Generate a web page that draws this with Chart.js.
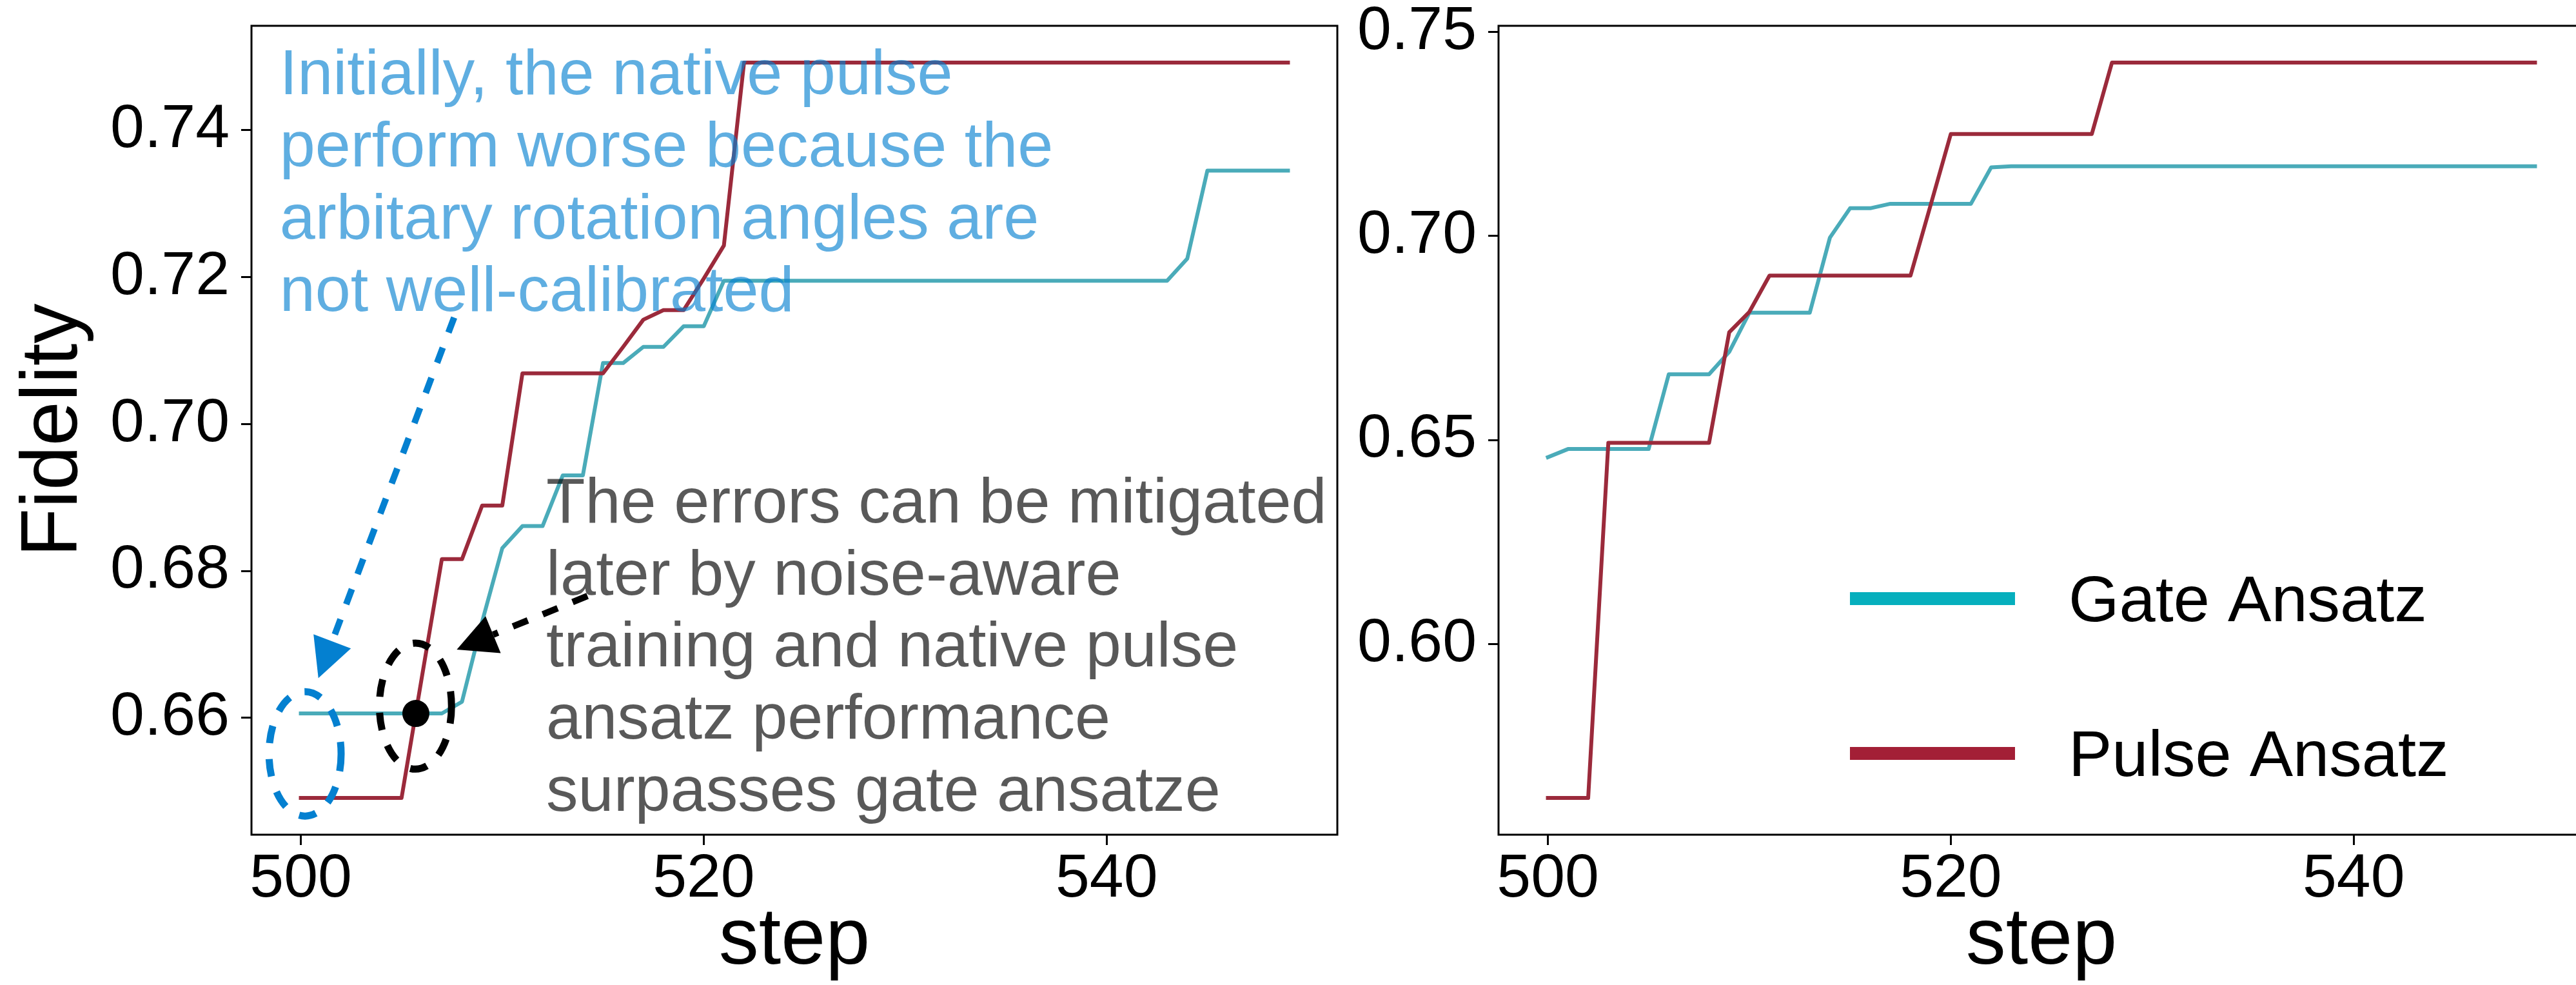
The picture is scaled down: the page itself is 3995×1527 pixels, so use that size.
<!DOCTYPE html>
<html lang="en">
<head>
<meta charset="UTF-8" />
<title>Fidelity per step</title>
<script src="https://cdn.jsdelivr.net/npm/chart.js"></script>
<style>
  html, body { margin: 0; padding: 0; background: #fff; overflow: hidden; }
  body { width: 3995px; height: 1527px; position: relative; }
  canvas { position: absolute; top: 0; }
  #leftChart { left: 0; }
  #rightChart { left: 1990px; }
</style>
</head>
<body>
<canvas id="leftChart" width="2110" height="1527"></canvas>
<canvas id="rightChart" width="2060" height="1527"></canvas>
<script>
  // training steps shared by both panels
  const steps = [
    500, 501, 502, 503, 504, 505, 506, 507, 508, 509,
    510, 511, 512, 513, 514, 515, 516, 517, 518, 519,
    520, 521, 522, 523, 524, 525, 526, 527, 528, 529,
    530, 531, 532, 533, 534, 535, 536, 537, 538, 539,
    540, 541, 542, 543, 544, 545, 546, 547, 548, 549
  ];

  // left panel
  const leftGate = [
    0.6606, 0.6606, 0.6606, 0.6606, 0.6606, 0.6606, 0.6606, 0.6606, 0.6622, 0.6731,
    0.6831, 0.6861, 0.6861, 0.6930, 0.6930, 0.7083, 0.7083, 0.7105, 0.7105, 0.7133,
    0.7133, 0.7195, 0.7195, 0.7195, 0.7195, 0.7195, 0.7195, 0.7195, 0.7195, 0.7195,
    0.7195, 0.7195, 0.7195, 0.7195, 0.7195, 0.7195, 0.7195, 0.7195, 0.7195, 0.7195,
    0.7195, 0.7195, 0.7195, 0.7195, 0.7225, 0.7345, 0.7345, 0.7345, 0.7345, 0.7345
  ];
  const leftPulse = [
    0.6491, 0.6491, 0.6491, 0.6491, 0.6491, 0.6491, 0.6654, 0.6816, 0.6816, 0.6889,
    0.6889, 0.7069, 0.7069, 0.7069, 0.7069, 0.7069, 0.7105, 0.7142, 0.7155, 0.7155,
    0.7198, 0.7243, 0.7492, 0.7492, 0.7492, 0.7492, 0.7492, 0.7492, 0.7492, 0.7492,
    0.7492, 0.7492, 0.7492, 0.7492, 0.7492, 0.7492, 0.7492, 0.7492, 0.7492, 0.7492,
    0.7492, 0.7492, 0.7492, 0.7492, 0.7492, 0.7492, 0.7492, 0.7492, 0.7492, 0.7492
  ];

  // right panel
  const rightGate = [
    0.6458, 0.6478, 0.6478, 0.6478, 0.6478, 0.6478, 0.6661, 0.6661, 0.6661, 0.6716,
    0.6812, 0.6812, 0.6812, 0.6812, 0.6996, 0.7068, 0.7068, 0.7079, 0.7079, 0.7079,
    0.7079, 0.7079, 0.7168, 0.7171, 0.7171, 0.7171, 0.7171, 0.7171, 0.7171, 0.7171,
    0.7171, 0.7171, 0.7171, 0.7171, 0.7171, 0.7171, 0.7171, 0.7171, 0.7171, 0.7171,
    0.7171, 0.7171, 0.7171, 0.7171, 0.7171, 0.7171, 0.7171, 0.7171, 0.7171, 0.7171
  ];
  const rightPulse = [
    0.5623, 0.5623, 0.5623, 0.6493, 0.6493, 0.6493, 0.6493, 0.6493, 0.6493, 0.6764,
    0.6814, 0.6903, 0.6903, 0.6903, 0.6903, 0.6903, 0.6903, 0.6903, 0.6903, 0.7076,
    0.7250, 0.7250, 0.7250, 0.7250, 0.7250, 0.7250, 0.7250, 0.7250, 0.7425, 0.7425,
    0.7425, 0.7425, 0.7425, 0.7425, 0.7425, 0.7425, 0.7425, 0.7425, 0.7425, 0.7425,
    0.7425, 0.7425, 0.7425, 0.7425, 0.7425, 0.7425, 0.7425, 0.7425, 0.7425, 0.7425
  ];

  const seriesNames = ["Gate Ansatz", "Pulse Ansatz"];
  const xTickValues = [500, 520, 540];
  const leftYTicks = [0.66, 0.68, 0.70, 0.72, 0.74];
  const rightYTicks = [0.60, 0.65, 0.70, 0.75];

  // notes on the left panel, anchored in (step, fidelity)
  const blueNote = [
    "Initially, the native pulse",
    "perform worse because the",
    "arbitary rotation angles are",
    "not well-calibrated"
  ];
  const blueNoteAt = [498.95, 0.7449];
  const grayNote = [
    "The errors can be mitigated",
    "later by noise-aware",
    "training and native pulse",
    "ansatz performance",
    "surpasses gate ansatze"
  ];
  const grayNoteAt = [512.18, 0.6866];
  const blueArrow = [[507.61, 0.7145], [500.87, 0.6654]];
  const blackArrow = [[514.23, 0.6766], [507.74, 0.6693]];
  const blueRing = { center: [500.21, 0.6551], rx: 1.79, ry: 0.00847 };
  const blackRing = { center: [505.69, 0.6616], rx: 1.79, ry: 0.00858 };
  const crossPoint = [505.71, 0.6606];

  const FONT = "'Liberation Sans', Arial, Helvetica, sans-serif";
  const GATE = "#4aabb9", PULSE = "#9b2a3b";
  const GATE_KEY = "#06afbd", PULSE_KEY = "#a31f36";
  const NOTE_BLUE = "#0480d0";

  function toPoints(ys) {
    return steps.map((s, i) => ({ x: s, y: ys[i] }));
  }

  // matplotlib-style 5% margins
  function padded(values) {
    const lo = Math.min(...values), hi = Math.max(...values);
    const m = (hi - lo) * 0.05;
    return [lo - m, hi + m];
  }

  const framePlugin = {
    id: "frame",
    afterDatasetsDraw(chart) {
      const { ctx, chartArea: a } = chart;
      ctx.save();
      ctx.strokeStyle = "#000";
      ctx.lineWidth = 3;
      ctx.strokeRect(a.left, a.top, a.right - a.left, a.bottom - a.top);
      ctx.restore();
    }
  };

  function drawArrow(ctx, p0, p1, color) {
    const ang = Math.atan2(p1[1] - p0[1], p1[0] - p0[0]);
    const headLen = 61, headHalf = 31;
    const bx = p1[0] - headLen * Math.cos(ang);
    const by = p1[1] - headLen * Math.sin(ang);
    ctx.strokeStyle = color;
    ctx.lineWidth = 10;
    ctx.setLineDash([25, 25]);
    ctx.beginPath();
    ctx.moveTo(p0[0], p0[1]);
    ctx.lineTo(bx, by);
    ctx.stroke();
    ctx.setLineDash([]);
    ctx.fillStyle = color;
    ctx.beginPath();
    ctx.moveTo(p1[0], p1[1]);
    ctx.lineTo(bx + headHalf * Math.sin(ang), by - headHalf * Math.cos(ang));
    ctx.lineTo(bx - headHalf * Math.sin(ang), by + headHalf * Math.cos(ang));
    ctx.closePath();
    ctx.fill();
  }

  const notesPlugin = {
    id: "notes",
    afterDraw(chart) {
      const { ctx } = chart;
      const xs = chart.scales.x, ys = chart.scales.y;
      const px = p => [xs.getPixelForValue(p[0]), ys.getPixelForValue(p[1])];

      ctx.save();
      const ring = (r, color) => {
        const c = px(r.center);
        const rx = xs.getPixelForValue(r.center[0] + r.rx) - c[0];
        const ry = c[1] - ys.getPixelForValue(r.center[1] + r.ry);
        ctx.strokeStyle = color;
        ctx.lineWidth = 11;
        ctx.setLineDash([27, 25]);
        ctx.beginPath();
        ctx.ellipse(c[0], c[1], rx, ry, 0, 0, Math.PI * 2);
        ctx.stroke();
        ctx.setLineDash([]);
      };
      ring(blueRing, NOTE_BLUE);
      ring(blackRing, "#000");

      const dot = px(crossPoint);
      ctx.fillStyle = "#000";
      ctx.beginPath();
      ctx.arc(dot[0], dot[1], 21, 0, Math.PI * 2);
      ctx.fill();

      drawArrow(ctx, px(blueArrow[0]), px(blueArrow[1]), NOTE_BLUE);
      drawArrow(ctx, px(blackArrow[0]), px(blackArrow[1]), "#000");

      ctx.font = `99px ${FONT}`;
      ctx.textAlign = "left";
      ctx.textBaseline = "alphabetic";
      let o = px(blueNoteAt);
      ctx.fillStyle = "rgba(4, 128, 208, 0.64)";
      blueNote.forEach((t, i) => ctx.fillText(t, o[0], o[1] + i * 112));
      o = px(grayNoteAt);
      ctx.fillStyle = "rgba(0, 0, 0, 0.65)";
      grayNote.forEach((t, i) => ctx.fillText(t, o[0], o[1] + i * 111.7));
      ctx.restore();
    }
  };

  const keyPlugin = {
    id: "seriesKey",
    afterDraw(chart) {
      const { ctx, chartArea: a } = chart;
      ctx.save();
      chart.data.datasets.forEach((ds, i) => {
        const y = a.top + 888 + i * 240;
        ctx.strokeStyle = ds.keyColor;
        ctx.lineWidth = 20;
        ctx.lineCap = "butt";
        ctx.beginPath();
        ctx.moveTo(a.left + 545, y);
        ctx.lineTo(a.left + 801, y);
        ctx.stroke();
        ctx.fillStyle = "#000";
        ctx.font = `101px ${FONT}`;
        ctx.textBaseline = "alphabetic";
        ctx.fillText(ds.label, a.left + 884, y + 35);
      });
      ctx.restore();
    }
  };

  function buildChart(id, gate, pulse, yTicks, yWidth, rightPad, yTitle, plugins) {
    const xr = padded(steps);
    const yr = padded(gate.concat(pulse));
    const tickGrid = { drawOnChartArea: false, drawTicks: true, tickLength: 16, lineWidth: 3, color: "#000" };
    const line = (label, data, color, key, order) => ({
      label, data: toPoints(data), borderColor: color, keyColor: key, order,
      borderWidth: 6, pointRadius: 0, tension: 0, fill: false,
      borderJoinStyle: "round", borderCapStyle: "square"
    });
    return new Chart(document.getElementById(id).getContext("2d"), {
      type: "line",
      data: {
        datasets: [
          line(seriesNames[0], gate, GATE, GATE_KEY, 1),
          line(seriesNames[1], pulse, PULSE, PULSE_KEY, 0)
        ]
      },
      options: {
        responsive: false,
        devicePixelRatio: 1,
        animation: false,
        layout: { padding: { top: 40, right: rightPad, left: 0, bottom: 0 } },
        plugins: { legend: { display: false }, tooltip: { enabled: false } },
        scales: {
          x: {
            type: "linear",
            min: xr[0],
            max: xr[1],
            afterBuildTicks: s => { s.ticks = xTickValues.map(v => ({ value: v })); },
            afterFit: s => { s.height = 233; s.paddingLeft = 0; s.paddingRight = 0; },
            grid: tickGrid,
            border: { display: false },
            ticks: {
              color: "#000", padding: 6, maxRotation: 0, autoSkip: false,
              font: { family: FONT, size: 95, lineHeight: 1 }
            },
            title: {
              display: true, text: "step", color: "#000",
              font: { family: FONT, size: 124, lineHeight: 1 },
              padding: { top: 0, bottom: 5 }
            }
          },
          y: {
            type: "linear",
            min: yr[0],
            max: yr[1],
            afterBuildTicks: s => { s.ticks = yTicks.map(v => ({ value: v })); },
            afterFit: s => { s.width = yWidth; s.paddingTop = 0; s.paddingBottom = 0; },
            grid: tickGrid,
            border: { display: false },
            ticks: {
              color: "#000", padding: 18,
              font: { family: FONT, size: 95, lineHeight: 1 },
              callback: v => Number(v).toFixed(2)
            },
            title: {
              display: !!yTitle, text: yTitle || "", color: "#000",
              font: { family: FONT, size: 124, lineHeight: 1 },
              padding: { top: 23, bottom: 0 }
            }
          }
        }
      },
      plugins: [framePlugin].concat(plugins)
    });
  }

  buildChart("leftChart", leftGate, leftPulse, leftYTicks, 390, 36, "Fidelity", [notesPlugin]);
  buildChart("rightChart", rightGate, rightPulse, rightYTicks, 334, 42, null, [keyPlugin]);
</script>
</body>
</html>
